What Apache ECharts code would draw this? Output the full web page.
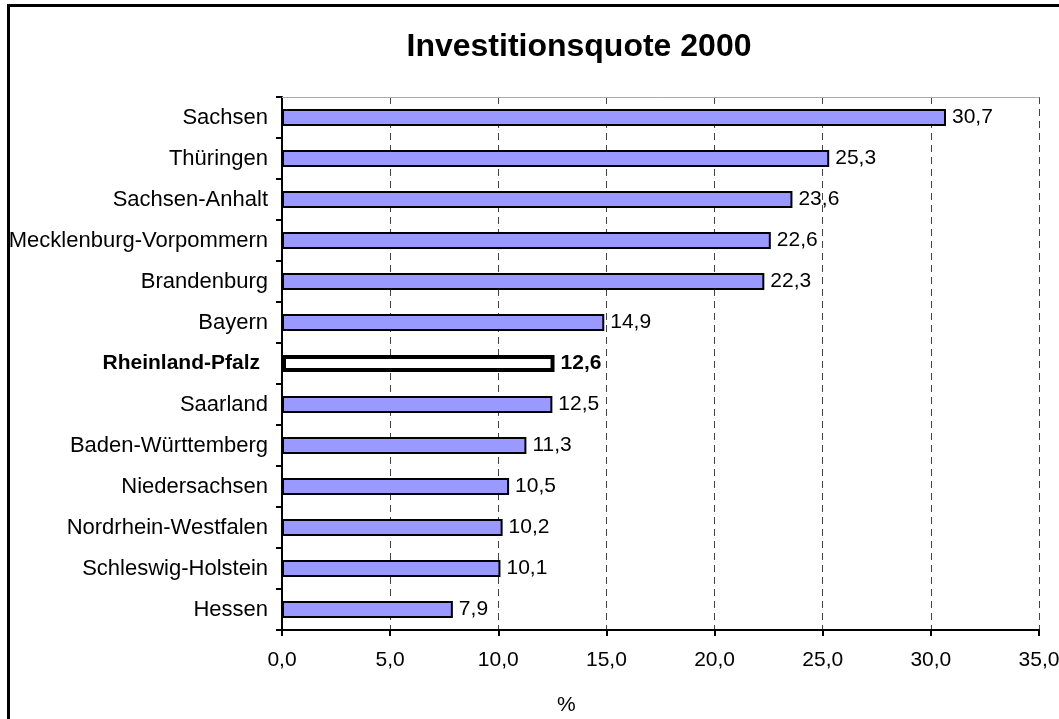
<!DOCTYPE html>
<html>
<head>
<meta charset="utf-8">
<script src="https://cdn.jsdelivr.net/npm/echarts@6/dist/echarts.min.js"></script>
<style>
  html, body { margin: 0; padding: 0; background: #fff; }
  #chart { width: 1059px; height: 719px; }
</style>
</head>
<body>
<div id="chart"></div>
<script>
// Bundesländer, von oben nach unten
var laender = ['Sachsen', 'Thüringen', 'Sachsen-Anhalt', 'Mecklenburg-Vorpommern', 'Brandenburg',
    'Bayern', 'Rheinland-Pfalz', 'Saarland', 'Baden-Württemberg', 'Niedersachsen',
    'Nordrhein-Westfalen', 'Schleswig-Holstein', 'Hessen'];
var quote = [30.7, 25.3, 23.6, 22.6, 22.3, 14.9, 12.6, 12.5, 11.3, 10.5, 10.2, 10.1, 7.9];
var hervorheben = 'Rheinland-Pfalz';

var schrift = 'Arial, "Liberation Sans", sans-serif';

function komma(v) {
    return Number(v).toFixed(1).replace('.', ',');
}

var daten = quote.map(function (v, i) {
    if (laender[i] === hervorheben) {
        return {
            value: v,
            itemStyle: { color: '#fff', borderColor: '#000', borderWidth: 4 },
            label: { fontWeight: 'bold' }
        };
    }
    return v;
});

var chart = echarts.init(document.getElementById('chart'));
chart.setOption({
    animation: false,
    backgroundColor: '#fff',
    title: {
        text: 'Investitionsquote 2000',
        left: 574,
        top: 26,
        textAlign: 'center',
        textStyle: { fontFamily: schrift, fontSize: 32, fontWeight: 'bold', color: '#000' }
    },
    grid: { left: 282, right: 20, top: 97, bottom: 89, outerBoundsMode: 'none' },
    xAxis: [{
        type: 'value',
        min: 0,
        max: 35,
        interval: 5,
        axisLine: { show: true, lineStyle: { color: '#000', width: 2 } },
        axisTick: { show: true, inside: false, length: 6, lineStyle: { color: '#000', width: 2 } },
        axisLabel: {
            margin: 20,
            color: '#000',
            fontFamily: schrift,
            fontSize: 21,
            formatter: komma
        },
        splitLine: { show: true, lineStyle: { color: '#444', type: [7, 5], width: 1 } }
    }, {
        // obere Rahmenlinie
        type: 'value',
        position: 'top',
        min: 0,
        max: 35,
        axisLine: { show: true, lineStyle: { color: '#aaa', width: 1 } },
        axisTick: { show: false },
        axisLabel: { show: false },
        splitLine: { show: false }
    }],
    yAxis: {
        type: 'category',
        inverse: true,
        data: laender,
        axisLine: { show: true, lineStyle: { color: '#000', width: 2 } },
        axisTick: { show: true, inside: false, length: 6, lineStyle: { color: '#000', width: 2 } },
        axisLabel: {
            margin: 14,
            color: '#000',
            fontFamily: schrift,
            fontSize: 22,
            formatter: function (name) {
                return name === hervorheben ? '{b|' + name + '}' : name;
            },
            rich: {
                b: { fontFamily: schrift, fontSize: 21, fontWeight: 'bold', color: '#000', padding: [0, 8, 0, 0] }
            }
        }
    },
    series: [{
        type: 'bar',
        data: daten,
        barWidth: 17,
        itemStyle: { color: '#9999ff', borderColor: '#000', borderWidth: 2 },
        label: {
            show: true,
            position: 'right',
            distance: 6,
            color: '#000',
            fontFamily: schrift,
            fontSize: 21,
            formatter: function (p) { return komma(p.value); }
        }
    }],
    graphic: [{
        type: 'rect',
        shape: { x: 8.5, y: 5.5, width: 1200, height: 800 },
        style: { fill: 'none', stroke: '#000', lineWidth: 3 },
        silent: true
    }, {
        type: 'text',
        left: 557,
        top: 695,
        style: { text: '%', fill: '#000', font: '21px ' + schrift }
    }]
});
</script>
</body>
</html>
